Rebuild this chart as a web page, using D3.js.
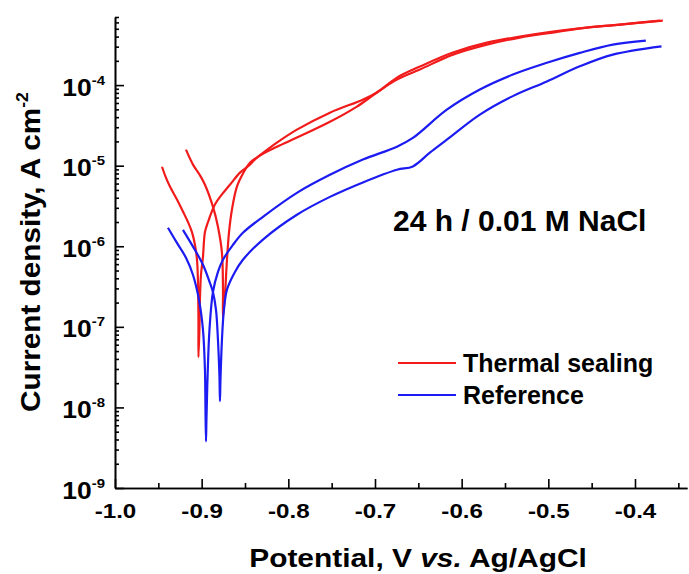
<!DOCTYPE html>
<html>
<head>
<meta charset="utf-8">
<script src="https://cdn.jsdelivr.net/npm/d3@7"></script>
<style>
  body { margin: 0; background: #fff; }
  text { font-family: "Liberation Sans", Arial, sans-serif; font-weight: bold; fill: #000; }
</style>
</head>
<body>
<div id="chart"></div>
<script>
//size of the svg
var width = 689;
var height = 574;

//the lettering of the original is a little wider than Arial
var STRETCH = 1.15;

//potentials (V vs Ag/AgCl) and current densities (A cm-2)
//thermal sealing, run 1
var thermalE1 = [-0.9458, -0.9412, -0.9366, -0.9285, -0.9216, -0.9158, -0.9112, -0.9077, -0.9054, -0.9043, -0.9037, -0.9037,
                 -0.9026, -0.9020, -0.9008, -0.8985, -0.8962, -0.8927, -0.8847, -0.8766, -0.8674, -0.8558, -0.8443, -0.8351,
                 -0.8132, -0.7901, -0.7520, -0.7209, -0.6978, -0.6747, -0.6482, -0.6101, -0.5709, -0.5329, -0.4948, -0.4556,
                 -0.4175, -0.3679];
var thermalI1 = [9.7e-6, 7.1e-6, 5.5e-6, 3.8e-6, 2.7e-6, 2.0e-6, 1.5e-6, 1.04e-6, 6.8e-7, 3.8e-7, 1.2e-7, 4.2e-8,
                 9.2e-8, 2.2e-7, 4.4e-7, 7.4e-7, 1.5e-6, 2.0e-6, 3.3e-6, 4.4e-6, 5.8e-6, 8.2e-6, 1.03e-5, 1.29e-5,
                 1.72e-5, 2.23e-5, 3.5e-5, 5.4e-5, 8.1e-5, 1.17e-4, 1.56e-4, 2.39e-4, 3.18e-4, 3.89e-4, 4.49e-4, 5.18e-4,
                 5.64e-4, 6.32e-4];
//thermal sealing, run 2
var thermalE2 = [-0.9181, -0.9100, -0.9020, -0.8962, -0.8870, -0.8812, -0.8766, -0.8754, -0.8754,
                 -0.8731, -0.8708, -0.8685, -0.8651, -0.8593, -0.8512, -0.8443, -0.8351, -0.8132, -0.7901, -0.7520,
                 -0.7140, -0.6978, -0.6747, -0.6482, -0.6101, -0.5709, -0.5329, -0.4948, -0.4556, -0.4175, -0.3714];
var thermalI2 = [1.58e-5, 1.03e-5, 7.6e-6, 5.8e-6, 3.1e-6, 1.75e-6, 8.3e-7, 2.9e-7, 1.29e-7,
                 2.5e-7, 6.8e-7, 1.47e-6, 2.84e-6, 5.5e-6, 8.4e-6, 1.09e-5, 1.29e-5, 1.93e-5, 2.8e-5, 4.55e-5,
                 6.6e-5, 8.1e-5, 1.24e-4, 1.70e-4, 2.54e-4, 3.37e-4, 4.0e-4, 4.62e-4, 5.18e-4, 5.64e-4, 6.32e-4];
//reference, run 1
var refE1 = [-0.9389, -0.9285, -0.9181, -0.9100, -0.9031, -0.8985, -0.8962, -0.8956, -0.8950,
             -0.8945, -0.8933, -0.8910, -0.8870, -0.8812, -0.8754, -0.8639, -0.8524, -0.8293, -0.7901,
             -0.7520, -0.7140, -0.6747, -0.6563, -0.6171, -0.5790, -0.5409, -0.5017,
             -0.4637, -0.4256, -0.3875];
var refI1 = [1.70e-6, 1.10e-6, 7.2e-7, 4.4e-7, 2.16e-7, 9.2e-8, 2.9e-8, 9.3e-9, 3.8e-9,
             7.0e-9, 2.2e-8, 9.2e-8, 2.7e-7, 4.8e-7, 6.8e-7, 1.04e-6, 1.47e-6, 2.32e-6, 4.6e-6,
             7.7e-6, 1.19e-5, 1.72e-5, 2.21e-5, 4.95e-5, 8.8e-5, 1.35e-4, 1.89e-4,
             2.51e-4, 3.18e-4, 3.57e-4];
//reference, run 2
var refE2 = [-0.9216, -0.9100, -0.8985, -0.8904, -0.8870, -0.8835, -0.8812, -0.8795, -0.8789,
             -0.8783, -0.8766, -0.8743, -0.8708, -0.8616, -0.8524, -0.8293, -0.7901, -0.7520,
             -0.7140, -0.6747, -0.6563, -0.6367, -0.6171, -0.5790, -0.5409, -0.5017, -0.4637, -0.4256,
             -0.3694];
var refI2 = [1.60e-6, 9.9e-7, 5.9e-7, 3.5e-7, 2.7e-7, 1.63e-7, 6.9e-8, 2.5e-8, 1.2e-8,
             2.2e-8, 6.9e-8, 1.63e-7, 2.9e-7, 4.8e-7, 6.8e-7, 1.21e-6, 2.46e-6, 4.1e-6,
             6.2e-6, 8.9e-6, 9.8e-6, 1.45e-5, 2.1e-5, 4.3e-5, 7.3e-5, 1.11e-4, 1.71e-4, 2.39e-4,
             3.03e-4];

//axis ticks and labels
var xTicks = [-1.0, -0.9, -0.8, -0.7, -0.6, -0.5, -0.4];
var xMinorTicks = [-0.95, -0.85, -0.75, -0.65, -0.55, -0.45, -0.35];
var yExponents = [-9, -8, -7, -6, -5, -4];

//legend entries
var seriesNames = ["Thermal sealing", "Reference"];
var seriesColors = ["#f21b1b", "#1b1bf2"];

var svg = d3.select("#chart")
            .append("svg")
            .attr("width", width)
            .attr("height", height);

//scales
var xScale = d3.scaleLinear()
               .domain([-1.0, -0.34])
               .range([115, 687]);
var yScale = d3.scaleLog()
               .domain([1e-9, 7e-4])
               .range([488, 17]);

//x axis, ticks pointing inwards
svg.append("g")
   .attr("transform", "translate(0," + 488 + ")")
   .call(d3.axisBottom(xScale)
           .tickValues(xMinorTicks)
           .tickSize(-5)
           .tickSizeOuter(0)
           .tickFormat(""));
svg.append("g")
   .attr("class", "xMajor")
   .attr("transform", "translate(0," + 488 + ")")
   .call(d3.axisBottom(xScale)
           .tickValues(xTicks)
           .tickSize(-9)
           .tickSizeOuter(0)
           .tickPadding(15)
           .tickFormat(d3.format(".1f")));
svg.selectAll(".xMajor text")
   .style("font-size", "21px")
   .attr("transform", "scale(" + STRETCH + ",1)")
   .text(function(d) { return d3.format(".1f")(d).replace("\u2212", "-"); });

//y axis minor ticks: 2..9 in each decade
var yMinorTicks = [];
yExponents.forEach(function(e) {
  for (var k = 2; k <= 9; ++k) {
    var v = k * Math.pow(10, e);
    if (v <= 7e-4) yMinorTicks.push(v);
  }
});
svg.append("g")
   .attr("transform", "translate(115,0)")
   .call(d3.axisLeft(yScale)
           .tickValues(yMinorTicks)
           .tickSize(-4)
           .tickSizeOuter(0)
           .tickFormat(""));
var yMajor = svg.append("g")
   .attr("transform", "translate(115,0)")
   .call(d3.axisLeft(yScale)
           .tickValues(yExponents.map(function(e) { return Math.pow(10, e); }))
           .tickSize(-9)
           .tickSizeOuter(0)
           .tickFormat(""));
//labels written as 10 with a superscript exponent
yMajor.selectAll(".tick").each(function(d) {
  var t = d3.select(this).append("text")
            .attr("transform", "translate(-10,10) scale(" + STRETCH + ",1)")
            .attr("fill", "#000")
            .style("text-anchor", "end")
            .style("font-size", "23px");
  t.append("tspan").text("10");
  t.append("tspan")
   .attr("dy", -11)
   .style("font-size", "13px")
   .text("-" + Math.abs(Math.round(Math.log10(d))));
});

svg.selectAll(".domain, .tick line")
   .attr("stroke", "#000")
   .attr("stroke-width", 1.6);

//axis titles
var xTitle = svg.append("text")
   .attr("transform", "translate(418,567) scale(" + STRETCH + ",1)")
   .style("text-anchor", "middle")
   .style("font-size", "26px");
xTitle.append("tspan").text("Potential, V ");
xTitle.append("tspan").style("font-style", "italic").text("vs.");
xTitle.append("tspan").text(" Ag/AgCl");

var yTitle = svg.append("text")
   .attr("transform", "translate(40,252) rotate(-90) scale(1.1,1)")
   .style("text-anchor", "middle")
   .style("font-size", "27px");
yTitle.append("tspan").text("Current density, A cm");
yTitle.append("tspan").attr("dy", -12).style("font-size", "16px").text("-2");

//the curves
var lineGen = d3.line()
                .curve(d3.curveCatmullRom.alpha(0.5))
                .x(function(d) { return xScale(d.E); })
                .y(function(d) { return yScale(d.I); });

function pairs(E, I) {
  return E.map(function(e, i) { return {E: e, I: I[i]}; });
}

var curves = [
  {series: 0, values: pairs(thermalE1, thermalI1)},
  {series: 0, values: pairs(thermalE2, thermalI2)},
  {series: 1, values: pairs(refE1, refI1)},
  {series: 1, values: pairs(refE2, refI2)}
];

svg.selectAll("path.curve")
   .data(curves)
   .enter()
   .append("path")
   .attr("class", "curve")
   .attr("d", function(d) { return lineGen(d.values); })
   .attr("fill", "none")
   .attr("stroke", function(d) { return seriesColors[d.series]; })
   .attr("stroke-width", 2.2);

//annotation
svg.append("text")
   .attr("x", 393)
   .attr("y", 231)
   .style("font-size", "30px")
   .text("24 h / 0.01 M NaCl");

//legend
var legend = svg.selectAll("g.legend")
                .data(seriesNames)
                .enter()
                .append("g")
                .attr("class", "legend")
                .attr("transform", function(d, i) { return "translate(398," + (363 + i * 32) + ")"; });
legend.append("line")
      .attr("x1", 0)
      .attr("x2", 58)
      .attr("stroke", function(d, i) { return seriesColors[i]; })
      .attr("stroke-width", 2.2);
legend.append("text")
      .attr("x", 65)
      .attr("y", 9)
      .style("font-size", "25px")
      .text(function(d) { return d; });
</script>
</body>
</html>
